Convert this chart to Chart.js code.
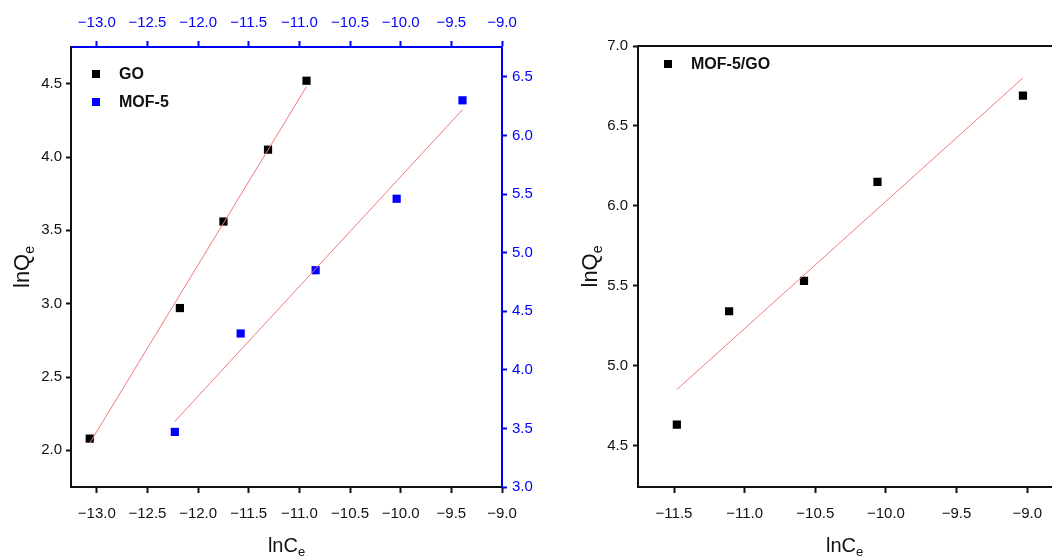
<!DOCTYPE html>
<html>
<head>
<meta charset="utf-8">
<script src="https://cdn.jsdelivr.net/npm/chart.js@4.4.1/dist/chart.umd.min.js"></script>
<style>
html, body { margin: 0; padding: 0; background: #fff; }
#left { position: absolute; left: 0; top: 0; width: 540px; height: 558px; }
#right { position: absolute; left: 540px; top: 0; width: 517px; height: 558px; }
</style>
</head>
<body>
<div id="left"><canvas id="chartLeft"></canvas></div>
<div id="right"><canvas id="chartRight"></canvas></div>
<script>
const goX = [-13.07, -12.18, -11.75, -11.31, -10.93]
const goY = [2.08, 2.97, 3.56, 4.05, 4.52]
const goFitX = [-13.07, -10.93]
const goFitY = [2.05, 4.48]

const mofX = [-12.23, -11.58, -10.84, -10.04, -9.39]
const mofY = [3.47, 4.31, 4.85, 5.46, 6.30]
const mofFitX = [-12.23, -9.39]
const mofFitY = [3.56, 6.22]

const compX = [-11.48, -11.11, -10.58, -10.06, -9.03]
const compY = [4.63, 5.34, 5.53, 6.15, 6.69]
const compFitX = [-11.48, -9.03]
const compFitY = [4.85, 6.80]

// tick labels
const xTicksLeft = [-13.0, -12.5, -12.0, -11.5, -11.0, -10.5, -10.0, -9.5, -9.0]
const yTicksGO = [2.0, 2.5, 3.0, 3.5, 4.0, 4.5]
const yTicksMOF = [3.0, 3.5, 4.0, 4.5, 5.0, 5.5, 6.0, 6.5]
const xTicksRight = [-11.5, -11.0, -10.5, -10.0, -9.5, -9.0]
const yTicksRight = [4.5, 5.0, 5.5, 6.0, 6.5, 7.0]

const BLUE = '#0000ff'
const INK = '#111111'
const FIT = '#f07a7a'
const FONT = "'Liberation Sans', Arial, sans-serif"

const toXY = (xs, ys) => xs.map((x, i) => ({x: x, y: ys[i]}))
const fmt = (v) => Number(v).toFixed(1).replace('-', '\u2212')

function makeAxis(position, min, max, tickVals, color, size, pad) {
    const horiz = position === 'top' || position === 'bottom'
    const show = tickVals.length > 0
    return {
        type: 'linear',
        position: position,
        min: min,
        max: max,
        afterBuildTicks: (s) => { s.ticks = tickVals.map((v) => ({value: v})) },
        afterFit: (s) => { if (horiz) s.height = size; else s.width = size },
        border: {display: true, color: color, width: 2},
        grid: {
            display: show,
            drawOnChartArea: false,
            drawTicks: true,
            tickLength: horiz ? 6 : 5,
            tickColor: color,
            tickWidth: 2,
        },
        ticks: {
            display: show,
            color: color,
            padding: pad,
            autoSkip: false,
            maxRotation: 0,
            font: {family: FONT, size: 15},
            callback: (v) => fmt(v),
        },
    }
}

function drawSub(ctx, main, sub, cx, baseY, size) {
    ctx.font = size + 'px ' + FONT
    const w1 = ctx.measureText(main).width
    ctx.font = Math.round(size * 0.65) + 'px ' + FONT
    const w2 = ctx.measureText(sub).width
    const x0 = cx - (w1 + w2) / 2
    ctx.textAlign = 'left'
    ctx.textBaseline = 'alphabetic'
    ctx.font = size + 'px ' + FONT
    ctx.fillText(main, x0, baseY)
    ctx.font = Math.round(size * 0.65) + 'px ' + FONT
    ctx.fillText(sub, x0 + w1, baseY + size * 0.22)
}

const axisTitles = {
    id: 'axisTitles',
    afterDraw(chart, args, opts) {
        const {ctx, chartArea} = chart
        ctx.save()
        ctx.fillStyle = INK
        drawSub(ctx, 'lnC', 'e', (chartArea.left + chartArea.right) / 2, opts.xBase, 20)
        ctx.translate(opts.yBase, (chartArea.top + chartArea.bottom) / 2)
        ctx.rotate(-Math.PI / 2)
        drawSub(ctx, 'lnQ', 'e', 0, 0, 22)
        ctx.restore()
    }
}

const legendInside = {
    id: 'legendInside',
    afterDraw(chart, args, opts) {
        const {ctx, chartArea} = chart
        ctx.save()
        ctx.font = 'bold 16px ' + FONT
        ctx.textAlign = 'left'
        ctx.textBaseline = 'middle'
        opts.items.forEach((it) => {
            const x = chartArea.left + it.dx
            const y = chartArea.top + it.dy
            ctx.fillStyle = it.color
            ctx.fillRect(x - 4, y - 4, 8, 8)
            ctx.fillStyle = INK
            ctx.fillText(it.text, x + 23, y + 1)
        })
        ctx.restore()
    }
}

const pointSet = (label, xs, ys, color, xAxisID, yAxisID) => ({
    label: label,
    data: toXY(xs, ys),
    xAxisID: xAxisID,
    yAxisID: yAxisID,
    pointStyle: 'rect',
    pointRadius: 5.8,
    pointHoverRadius: 5.8,
    borderWidth: 0,
    backgroundColor: color,
    borderColor: color,
})

const fitSet = (label, xs, ys, xAxisID, yAxisID) => ({
    label: label,
    data: toXY(xs, ys),
    xAxisID: xAxisID,
    yAxisID: yAxisID,
    showLine: true,
    borderColor: FIT,
    borderWidth: 1,
    pointRadius: 0,
    pointHoverRadius: 0,
    fill: false,
})

const commonPlugins = {
    legend: {display: false},
    tooltip: {enabled: false},
}

new Chart(document.getElementById('chartLeft').getContext('2d'), {
    type: 'scatter',
    data: {
        datasets: [
            fitSet('GO fit', goFitX, goFitY, 'x', 'y'),
            fitSet('MOF-5 fit', mofFitX, mofFitY, 'x2', 'y2'),
            pointSet('GO', goX, goY, '#000000', 'x', 'y'),
            pointSet('MOF-5', mofX, mofY, BLUE, 'x2', 'y2'),
        ]
    },
    options: {
        responsive: true,
        maintainAspectRatio: false,
        animation: false,
        layout: {padding: 0},
        plugins: {
            ...commonPlugins,
            axisTitles: {xBase: 552, yBase: 29},
            legendInside: {items: [
                {text: 'GO', color: '#000000', dx: 25, dy: 27},
                {text: 'MOF-5', color: BLUE, dx: 25, dy: 55},
            ]},
        },
        scales: {
            x: makeAxis('bottom', -13.255, -9.0, xTicksLeft, INK, 71, 12),
            x2: makeAxis('top', -13.255, -9.0, xTicksLeft, BLUE, 47, 9),
            y: makeAxis('left', 1.75, 4.75, yTicksGO, INK, 71, 4),
            y2: makeAxis('right', 3.0, 6.755, yTicksMOF, BLUE, 38, 5),
        }
    },
    plugins: [axisTitles, legendInside]
})

new Chart(document.getElementById('chartRight').getContext('2d'), {
    type: 'scatter',
    data: {
        datasets: [
            fitSet('MOF-5/GO fit', compFitX, compFitY, 'x', 'y'),
            pointSet('MOF-5/GO', compX, compY, '#000000', 'x', 'y'),
        ]
    },
    options: {
        responsive: true,
        maintainAspectRatio: false,
        animation: false,
        layout: {padding: 0},
        plugins: {
            ...commonPlugins,
            axisTitles: {xBase: 552, yBase: 57},
            legendInside: {items: [
                {text: 'MOF-5/GO', color: '#000000', dx: 30, dy: 18},
            ]},
        },
        scales: {
            x: makeAxis('bottom', -11.755, -8.83, xTicksRight, INK, 71, 12),
            x2: makeAxis('top', -11.755, -8.83, [], INK, 46, 0),
            y: makeAxis('left', 4.24, 7.0, yTicksRight, INK, 98, 5),
        }
    },
    plugins: [axisTitles, legendInside]
})
</script>
</body>
</html>
